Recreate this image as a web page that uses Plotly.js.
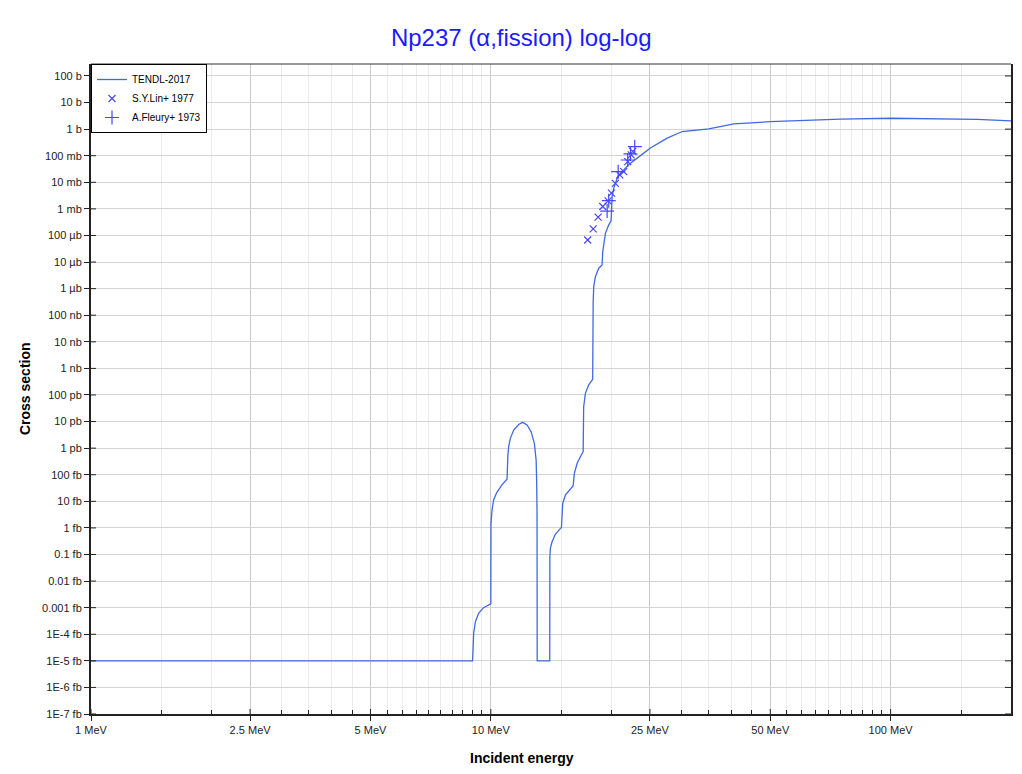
<!DOCTYPE html>
<html>
<head>
<meta charset="utf-8">
<script src="https://cdn.plot.ly/plotly-3.0.1.min.js"></script>
<style>html,body{margin:0;padding:0;background:#fff;}#chart{width:1022px;height:774px;}</style>
</head>
<body>
<div id="chart"></div>
<script>
// ---- data (MeV, barns) ----
const tendlEnergy = [1, 9.00, 9.04, 9.06, 9.15, 9.32, 9.59, 9.97, 10.0, 10.01, 10.07, 10.16, 10.35, 10.66, 10.98,
  11.03, 11.08, 11.19, 11.41, 11.74, 12.01, 12.32, 12.61, 12.85, 12.98, 13.02, 13.05, 13.06, 14.04, 14.05, 14.09,
  14.23, 14.51, 15.02, 15.13, 15.37, 15.68, 16.06, 16.18, 16.44, 16.84, 17.02, 17.07, 17.24, 17.57, 17.98, 18.03,
  18.09, 18.26, 18.62, 18.98, 19.05, 19.35, 19.72, 19.99, 20.05, 20.11, 20.30, 20.70, 21.10, 21.71, 22.35, 23.23,
  24.13, 25.07, 27.61, 30.11, 35.10, 40.53, 50.06, 74.96, 100, 164.8, 200];
const tendlXS = [1e-20, 1e-20, 4.57e-20, 1.10e-19, 2.95e-19, 6.17e-19, 1.0e-18, 1.38e-18, 1.38e-18, 1.48e-15, 4.68e-15,
  1.12e-14, 2.14e-14, 4.17e-14, 6.76e-14, 5.0e-13, 1.12e-12, 2.34e-12, 4.79e-12, 7.76e-12, 9.33e-12, 7.41e-12,
  4.17e-12, 1.51e-12, 3.63e-13, 6.31e-14, 3.55e-15, 1e-20, 1e-20, 8.32e-17, 1.70e-16, 3.02e-16, 5.89e-16, 1.05e-15,
  8.32e-15, 1.74e-14, 2.51e-14, 3.80e-14, 1.12e-13, 2.69e-13, 5.50e-13, 7.41e-13, 3.63e-11, 1.15e-10, 2.40e-10,
  3.89e-10, 3.16e-7, 1.20e-6, 2.82e-6, 5.89e-6, 7.76e-6, 2.45e-5, 1.20e-4, 2.51e-4, 3.55e-4, 2.0e-3, 2.88e-3,
  6.03e-3, 1.41e-2, 2.19e-2, 3.39e-2, 5.25e-2, 8.13e-2, 0.126, 0.195, 0.457, 0.813, 1.02, 1.58, 1.91, 2.40, 2.57,
  2.34, 2.04];

const linEnergy = [17.47, 18.03, 18.55, 19.05, 19.65, 20.03, 20.49, 21.01, 21.50, 22.00, 22.44, 22.64];
const linXS = [6.76e-5, 1.78e-4, 4.90e-4, 1.23e-3, 2.0e-3, 3.89e-3, 9.12e-3, 1.91e-2, 2.51e-2, 6.03e-2, 0.107, 0.145];

const fleuryEnergy = [19.54, 19.72, 20.82, 22.00, 22.35, 22.91];
const fleuryXS = [8.3e-4, 2.04e-3, 2.51e-2, 6.9e-2, 0.117, 0.219];

// ---- axis ticks ----
const xTickVals = [1, 2.5, 5, 10, 25, 50, 100];
const xTickText = ['1 MeV', '2.5 MeV', '5 MeV', '10 MeV', '25 MeV', '50 MeV', '100 MeV'];
const xMinorVals = [1.5, 2, 3, 3.5, 4, 4.5, 5.5, 6, 6.5, 7, 7.5, 8, 8.5, 9, 9.5, 15, 20, 30, 35, 40, 45,
  55, 60, 65, 70, 75, 80, 85, 90, 95, 150];
const yTickVals = [1e2, 1e1, 1, 1e-1, 1e-2, 1e-3, 1e-4, 1e-5, 1e-6, 1e-7, 1e-8, 1e-9, 1e-10, 1e-11, 1e-12,
  1e-13, 1e-14, 1e-15, 1e-16, 1e-17, 1e-18, 1e-19, 1e-20, 1e-21, 1e-22];
const yTickText = ['100 b', '10 b', '1 b', '100 mb', '10 mb', '1 mb', '100 µb', '10 µb', '1 µb', '100 nb', '10 nb',
  '1 nb', '100 pb', '10 pb', '1 pb', '100 fb', '10 fb', '1 fb', '0.1 fb', '0.01 fb', '0.001 fb', '1E-4 fb',
  '1E-5 fb', '1E-6 fb', '1E-7 fb'];

const FONT = 'Liberation Sans, Arial, sans-serif';
const lineColor = '#4169e1';
const markColor = 'rgb(70,70,255)';

const traces = [
  {x: tendlEnergy, y: tendlXS, type: 'scatter', mode: 'lines', name: 'TENDL-2017',
   line: {color: lineColor, width: 1.3}},
  {x: linEnergy, y: linXS, type: 'scatter', mode: 'markers', name: 'S.Y.Lin+ 1977',
   marker: {symbol: 'x-thin-open', size: 7, color: markColor, line: {color: markColor, width: 1.2}}},
  {x: fleuryEnergy, y: fleuryXS, type: 'scatter', mode: 'markers', name: 'A.Fleury+ 1973',
   marker: {symbol: 'cross-thin-open', size: 10, color: markColor, line: {color: markColor, width: 1.2}}}
];

// tick marks that go inward / right-side mirrored ticks (shape coords on log axes are data values)
const shapes = [];
yTickVals.forEach(v => {
  shapes.push({type: 'line', xref: 'paper', yref: 'y', x0: 0, x1: 5 / 920, y0: v, y1: v,
    line: {color: '#222', width: 1}});
  shapes.push({type: 'line', xref: 'paper', yref: 'y', x0: 1 - 6 / 920, x1: 1, y0: v, y1: v,
    line: {color: '#222', width: 1}});
});
xTickVals.forEach(v => {
  shapes.push({type: 'line', xref: 'x', yref: 'paper', x0: v, x1: v, y0: 0, y1: 5 / 650,
    line: {color: '#222', width: 1}});
});
shapes.push({type: 'line', xref: 'paper', yref: 'paper', x0: 0, x1: 1, y0: 1, y1: 1,
  line: {color: '#333', width: 1}});

const layout = {
  width: 1022, height: 774,
  margin: {l: 91, r: 11, t: 64, b: 60, pad: 0},
  paper_bgcolor: '#fff', plot_bgcolor: '#fff',
  font: {family: FONT, size: 11, color: '#222'},
  title: {text: 'Np237 (α,fission) log-log', font: {family: FONT, size: 24, color: '#1a1aff'},
    xref: 'container', x: 0.51, xanchor: 'center', yref: 'container', y: 0.952, yanchor: 'middle'},
  xaxis: {type: 'log', range: [0, Math.log10(200)], tickmode: 'array', tickvals: xTickVals, ticktext: xTickText,
    ticks: 'outside', ticklen: 5, tickcolor: '#222', tickwidth: 1,
    showgrid: true, gridcolor: '#c9c9c9', gridwidth: 1,
    minor: {tickmode: 'array', tickvals: xMinorVals, ticks: 'inside', ticklen: 4, tickcolor: '#222',
      showgrid: true, gridcolor: '#ececec', gridwidth: 1},
    showline: true, linecolor: '#222', linewidth: 2, mirror: false, zeroline: false,
    tickfont: {family: FONT, size: 11, color: '#222'}, automargin: false},
  yaxis: {type: 'log', range: [-22, 2.45], tickmode: 'array', tickvals: yTickVals, ticktext: yTickText,
    ticks: 'outside', ticklen: 5, tickcolor: '#222', tickwidth: 1,
    showgrid: true, gridcolor: '#d4d4d4', gridwidth: 1,
    showline: true, linecolor: '#222', linewidth: 2, mirror: true, zeroline: false,
    tickfont: {family: FONT, size: 11, color: '#222'}, automargin: false},
  legend: {x: 0, y: 1, xanchor: 'left', yanchor: 'top', bgcolor: '#fff', bordercolor: '#000', borderwidth: 1,
    font: {family: FONT, size: 10, color: '#000'}, tracegroupgap: 0},
  showlegend: true,
  shapes: shapes,
  annotations: [
    {text: '<b>Cross section</b>', xref: 'paper', yref: 'paper', x: -0.0717, y: 0.5, textangle: -90,
     xanchor: 'center', yanchor: 'middle', showarrow: false, font: {family: FONT, size: 14, color: '#000'}},
    {text: '<b>Incident energy</b>', xref: 'paper', yref: 'paper', x: 0.4685, y: -0.0677,
     xanchor: 'center', yanchor: 'middle', showarrow: false, font: {family: FONT, size: 14, color: '#000'}}
  ]
};

Plotly.newPlot('chart', traces, layout, {displayModeBar: false, staticPlot: true});
</script>
</body>
</html>
